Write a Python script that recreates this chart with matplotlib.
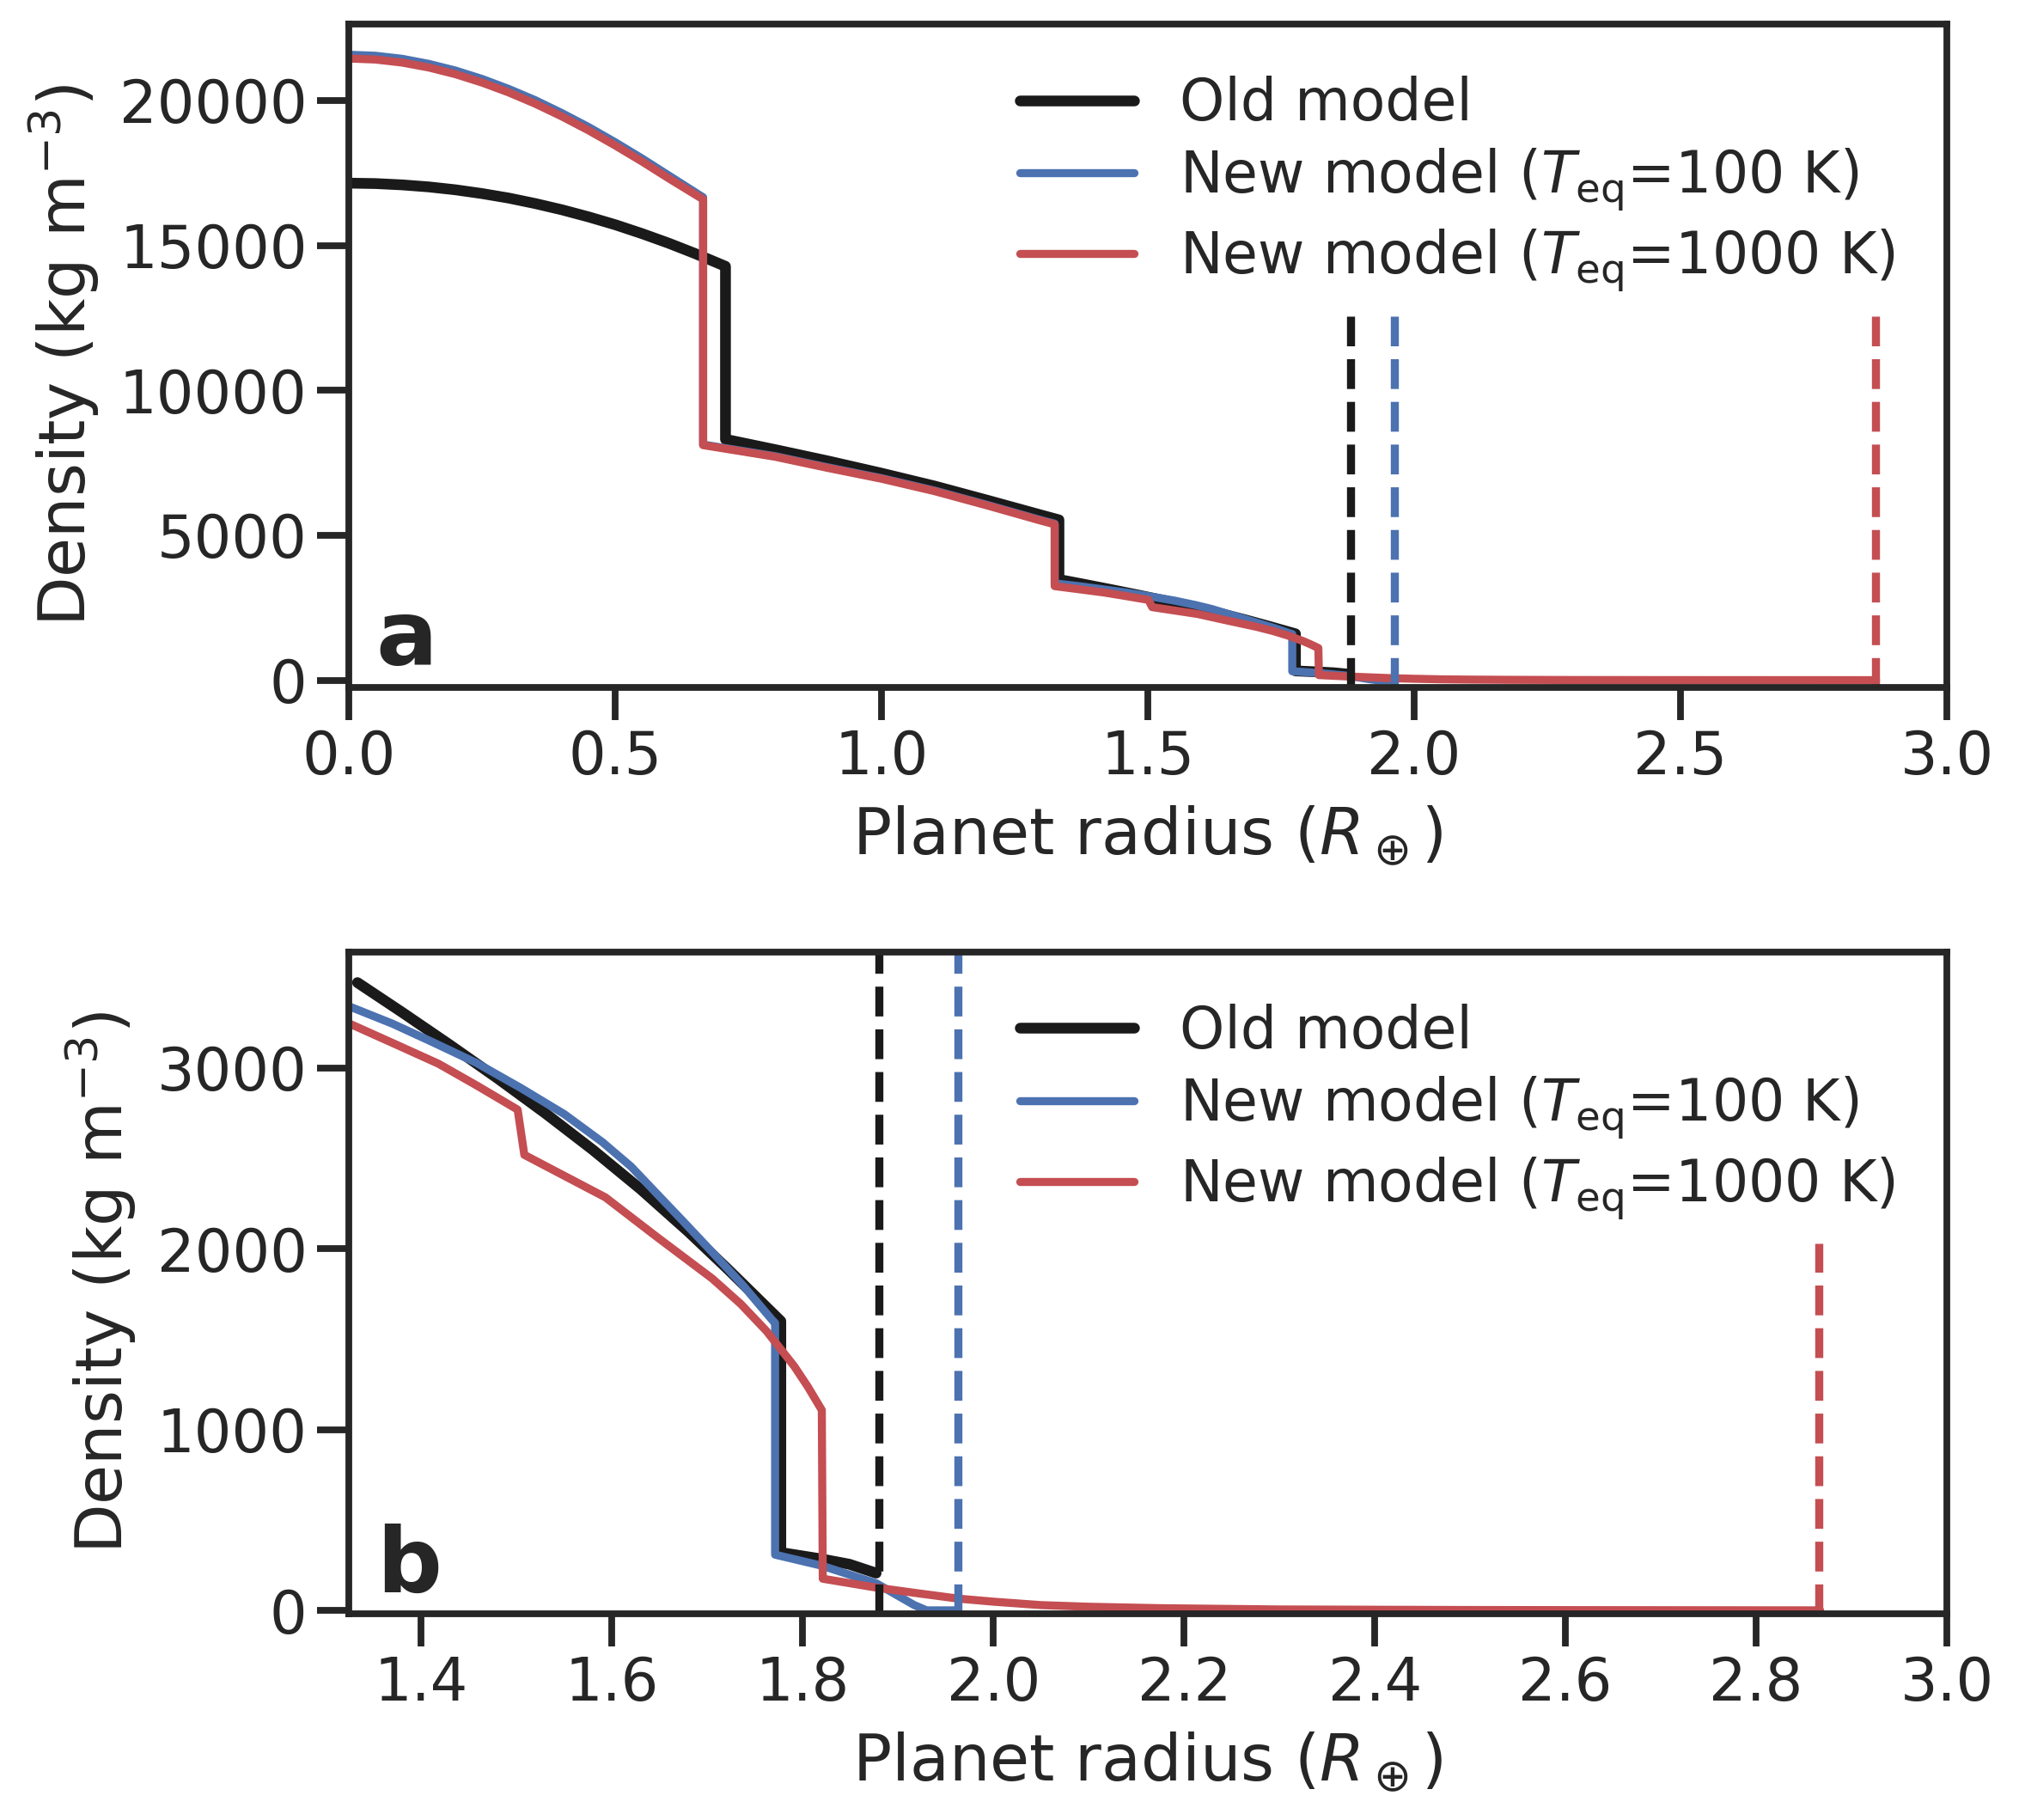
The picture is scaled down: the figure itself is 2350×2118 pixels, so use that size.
import numpy as np
import matplotlib.pyplot as plt
import seaborn as sns

sns.set_theme(context='poster', style='ticks')
plt.rcParams['font.family'] = ['DejaVu Sans']
plt.rcParams['lines.solid_capstyle'] = 'round'

# Density profiles (radius in Earth radii, density in kg m^-3)
r_old = [0.0, 0.05, 0.1, 0.15, 0.2, 0.25, 0.3, 0.35, 0.4, 0.45, 0.5, 0.55, 0.6, 0.65, 0.707,
         0.707, 0.8, 0.9, 1.0, 1.1, 1.2, 1.3, 1.333,
         1.333, 1.38, 1.43, 1.48, 1.53, 1.58, 1.63, 1.68, 1.72, 1.75, 1.777,
         1.777, 1.82, 1.849, 1.877]
rho_old = [17150, 17135, 17090, 17020, 16920, 16790, 16635, 16445, 16230, 15985, 15715, 15410, 15080, 14720, 14280,
           8310, 7955, 7560, 7140, 6695, 6200, 5695, 5530,
           3473, 3308, 3128, 2943, 2750, 2547, 2330, 2095, 1895, 1740, 1600,
           320, 284, 255, 206]

r_100 = [0.0, 0.05, 0.1, 0.15, 0.2, 0.25, 0.3, 0.35, 0.4, 0.45, 0.5, 0.55, 0.6, 0.665,
         0.665, 0.8, 0.9, 1.0, 1.1, 1.2, 1.3, 1.325,
         1.325, 1.37, 1.412, 1.4577, 1.504, 1.55, 1.59, 1.62, 1.647, 1.675, 1.705, 1.737, 1.768, 1.771,
         1.771, 1.820, 1.877, 1.917, 1.93, 1.963]
rho_100 = [21580, 21545, 21440, 21265, 21035, 20745, 20400, 20010, 19565, 19085, 18560, 18005, 17420, 16660,
           8130, 7730, 7340, 6970, 6540, 6040, 5520, 5400,
           3340, 3245, 3143, 3029, 2891, 2745, 2590, 2455, 2305, 2150, 1982, 1800, 1606, 1590,
           308, 247, 150, 29, 0, 0]

r_1000 = [0.0, 0.05, 0.1, 0.15, 0.2, 0.25, 0.3, 0.35, 0.4, 0.45, 0.5, 0.55, 0.6, 0.665,
          0.665, 0.8, 0.9, 1.0, 1.1, 1.2, 1.3, 1.325,
          1.325, 1.3715, 1.418, 1.4577, 1.501, 1.508, 1.593, 1.647, 1.705, 1.735, 1.762, 1.791, 1.805, 1.820,
          1.821, 1.877, 1.92, 1.963, 2.0, 2.05, 2.1, 2.175, 2.3, 2.5, 2.867]
rho_1000 = [21450, 21415, 21310, 21140, 20910, 20620, 20280, 19890, 19450, 18970, 18450, 17900, 17320, 16590,
            8110, 7710, 7320, 6950, 6520, 6020, 5500, 5380,
            3245, 3135, 3024, 2905, 2770, 2520, 2285, 2066, 1836, 1695, 1545, 1351, 1240, 1108,
            175, 126, 95, 65, 48, 29, 20, 12, 5, 2, 0]

# Planet surface radii (dashed lines)
r_surf = [1.88, 1.963, 2.866]

labels = ['Old model', r'New model ($T_{\rm eq}$=100 K)', r'New model ($T_{\rm eq}$=1000 K)']
colors = ['#1a1a1a', '#4c72b0', '#c44e52']
widths = [4, 3, 3]

models = [(r_old, rho_old), (r_100, rho_100), (r_1000, rho_1000)]

fig = plt.figure(figsize=(2350 / 225, 2118 / 225), dpi=225)
ax1 = fig.add_axes([0.1728, 0.6223, 0.7915, 0.3645])
ax2 = fig.add_axes([0.1728, 0.1134, 0.7915, 0.3636])

# panel a: full profile
for (r, rho), lab, c, lw in zip(models, labels, colors, widths):
    ax1.plot(r, rho, color=c, lw=lw, label=lab)
for rs, c in zip(r_surf, colors):
    ax1.axvline(rs, ymax=0.56, color=c, ls='--', lw=3)

ax1.set_xlim(0, 3.0)
ax1.set_ylim(-250, 22640)
ax1.set_yticks([0, 5000, 10000, 15000, 20000])
ax1.set_xticks([0.0, 0.5, 1.0, 1.5, 2.0, 2.5, 3.0])

# panel b: outer layers only (mantle and above)
for (r, rho), lab, c, lw in zip(models, labels, colors, widths):
    r = np.array(r)
    rho = np.array(rho)
    keep = rho < 4000
    ax2.plot(r[keep], rho[keep], color=c, lw=lw, label=lab)
ax2.axvline(r_surf[0], color=colors[0], ls='--', lw=3)
ax2.axvline(r_surf[1], color=colors[1], ls='--', lw=3)
ax2.axvline(r_surf[2], ymax=0.56, color=colors[2], ls='--', lw=3)

ax2.set_xlim(1.324, 3.0)
ax2.set_ylim(-18, 3643)
ax2.set_yticks([0, 1000, 2000, 3000])
ax2.set_xticks([1.4, 1.6, 1.8, 2.0, 2.2, 2.4, 2.6, 2.8, 3.0])

for ax, tag in zip([ax1, ax2], ['a', 'b']):
    ax.set_xlabel(r'Planet radius ($R_\oplus$)', labelpad=6.8)
    ax.set_ylabel(r'Density (kg m$^{-3}$)', labelpad=6.8)
    ax.legend(loc='upper right', frameon=False, fontsize=21.3, labelspacing=0.25)
    ax.text(0.017, 0.033, tag, transform=ax.transAxes, fontsize=34,
            fontweight='bold', va='baseline', ha='left')

fig.savefig('out.png', dpi=225)
